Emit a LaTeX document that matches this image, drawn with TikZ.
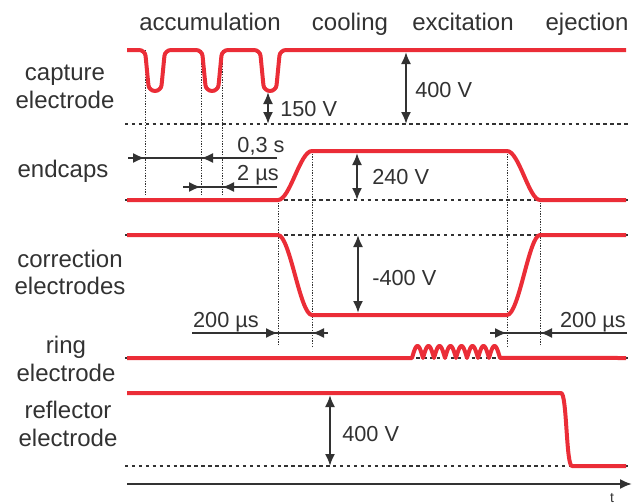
\documentclass[tikz,border=0pt]{standalone}
\usepackage{fontspec}
\setmainfont{Liberation Sans}
\usetikzlibrary{arrows.meta, positioning, calc}
\definecolor{pulsered}{RGB}{235,45,55}
\definecolor{inkgray}{RGB}{50,50,50}

\begin{document}
\begin{tikzpicture}[
    x=0.75pt, y=-0.75pt,
    wave/.style={line width=3pt, color=pulsered, line join=round},
    zeroline/.style={line width=1.1pt, color=inkgray, dash pattern=on 2.6pt off 2.6pt},
    guide/.style={line width=0.7pt, color=inkgray, dash pattern=on 0.9pt off 1.1pt},
    dimline/.style={line width=1.5pt, color=inkgray},
    dimarrow/.style={-{Latex[length=9pt, width=7.5pt]}, line width=1.5pt, color=inkgray},
    volt/.style={{Latex[length=9pt, width=7.5pt]}-{Latex[length=9pt, width=7.5pt]}, line width=1.5pt, color=inkgray},
    lbl/.style={align=center, text=inkgray, inner sep=0pt, font=\fontsize{18}{20.5}\selectfont},
    val/.style={text=inkgray, inner sep=0pt, font=\fontsize{16.3}{18}\selectfont}
]
\useasboundingbox (0,0) rectangle (640,504);

% phases
\node[lbl, anchor=base] (hacc) at (210,30) {accumulation};
\node[lbl, anchor=base] (hcool) at (350,30) {cooling};
\node[lbl, anchor=base] (hexc) at (463,30) {excitation};
\node[lbl, anchor=base] (hejc) at (587,30) {ejection};

% electrodes
\node[lbl] (capture) at (65,87) {capture\\electrode};
\node[lbl, anchor=base] (endcaps) at (63,177) {endcaps};
\node[lbl] (correction) at (70,272.5) {correction\\electrodes};
\node[lbl] (ring) at (66,359) {ring\\electrode};
\node[lbl] (reflector) at (68,424) {reflector\\electrode};

% reference levels
\foreach \ly in {124,200,235,358,466} {
    \draw[zeroline] (125,\ly) -- (628,\ly);
}

% timing guides
\foreach \gx in {145,201,222} {
    \draw[guide] (\gx,50) -- (\gx,195);
}
\foreach \gx in {278,540} {
    \draw[guide] (\gx,200) -- (\gx,346);
}
\foreach \gx in {312,507} {
    \draw[guide] (\gx,151) -- (\gx,346);
}

% waveforms
\draw[wave, rounded corners=4.5pt] (127,50) -- (145,50) -- (149,91) -- (161,91) -- (165,50)
    -- (202,50) -- (206,91) -- (218,91) -- (222,50)
    -- (260,50) -- (264,91) -- (276,91) -- (280,50) -- (626,50);
\draw[wave] (127,200) -- (278,200) .. controls (290,200) and (300,151) .. (312,151)
    -- (507,151) .. controls (519,151) and (529,200) .. (540,200) -- (626,200);
\draw[wave] (127,235) -- (278,235) .. controls (290,235) and (300,315) .. (312,315)
    -- (507,315) .. controls (519,315) and (529,235) .. (540,235) -- (626,235);
\draw[wave] (127,358) -- (412,358)
    -- plot[domain=0:8, samples=241] ({412+11*\x}, {358-12*abs(sin(180*\x))})
    -- (626,358);
\draw[wave] (127,393) -- (561,393) .. controls (567,393) and (566,466) .. (572,466) -- (626,466);

% voltages
\coordinate (c150a) at (268,92);  \coordinate (c150b) at (268,124);
\coordinate (c400a) at (406,52);  \coordinate (c400b) at (406,124);
\coordinate (e240a) at (357,153); \coordinate (e240b) at (357,200);
\coordinate (k400a) at (358,235); \coordinate (k400b) at (358,313);
\coordinate (r400a) at (330,395); \coordinate (r400b) at (330,466);
\draw[volt] (c150a) -- (c150b);
\draw[volt] (c400a) -- (c400b);
\draw[volt] (e240a) -- (e240b);
\draw[volt] (k400a) -- (k400b);
\draw[volt] (r400a) -- (r400b);
\node[val, anchor=base west] (l150) at (280,116) {150 V};
\node[val, anchor=base west] (l400c) at (415,97) {400 V};
\node[val, anchor=base west] (l240) at (372,184) {240 V};
\node[val, anchor=base west] (l400k) at (372,285) {-400 V};
\node[val, anchor=base west] (l400r) at (342,441) {400 V};

% durations
\foreach \n/\yy/\xs/\xa/\xb/\xe in {d03/158/128/145/201/277, d2/187/183/201/222/277,
                                    dl/333/192/278/312/328, dr/333/490/507/540/627} {
    \coordinate (\n-s) at (\xs,\yy);
    \coordinate (\n-a) at (\xa,\yy);
    \coordinate (\n-b) at (\xb,\yy);
    \coordinate (\n-e) at (\xe,\yy);
    \draw[dimline] (\n-s) -- (\n-e);
    \draw[dimarrow] (\n-s) -- (\n-a);
    \draw[dimarrow] (\n-e) -- (\n-b);
}
\node[val, anchor=base] (l03) at (261,152) {0,3 s};
\node[val, anchor=base] (l2) at (258,180) {2 µs};
\node[val, anchor=base] (l200a) at (226,327) {200 µs};
\node[val, anchor=base] (l200b) at (593,327) {200 µs};

% time axis
\coordinate (t0) at (127,484);
\coordinate (t1) at (632,484);
\draw[dimarrow] (t0) -- (t1);
\node[text=inkgray, inner sep=0pt, anchor=base, font=\fontsize{10.5}{12}\selectfont] (taxis) at (612,502) {t};
\end{tikzpicture}
\end{document}
